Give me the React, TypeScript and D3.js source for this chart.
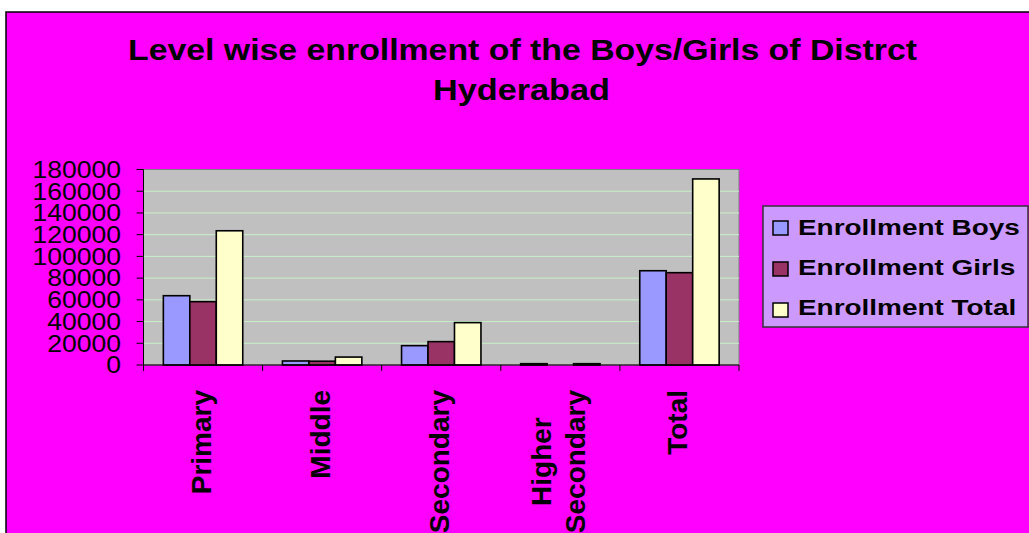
import React from "react";
import * as d3 from "d3";

const categories = ["Primary", "Middle", "Secondary", "Higher Secondary", "Total"];
const seriesNames = ["Enrollment Boys", "Enrollment Girls", "Enrollment Total"];
const boys = [63800, 3700, 17800, 1200, 86800];
const girls = [58300, 3500, 21500, 0, 85000];
const totals = [123600, 7300, 39000, 1200, 171300];
const yTicks = [0, 20000, 40000, 60000, 80000, 100000, 120000, 140000, 160000, 180000];

const W = 1029;
const H = 533;
const colors = ["#9999FF", "#993366", "#FFFFCC"];
const font = "Arial, 'Liberation Sans', sans-serif";

let ctx: CanvasRenderingContext2D | null = null;
const measure = (txt: string, size: number) => {
  if (!ctx) ctx = document.createElement("canvas").getContext("2d");
  if (!ctx) return txt.length * size * 0.6;
  ctx.font = `bold ${size}px ${font}`;
  return ctx.measureText(txt).width;
};

const App = () => {
  const margin = { top: 169.5, right: 290, bottom: 168, left: 143.5 };
  const plotW = W - margin.left - margin.right;
  const series = [boys, girls, totals];

  const x = d3.scaleBand<string>().domain(categories).range([margin.left, margin.left + plotW]).padding(0);
  const inner = d3
    .scaleBand<number>()
    .domain([0, 1, 2])
    .range([0, x.bandwidth()])
    .paddingInner(0)
    .paddingOuter(0.75);
  const y = d3.scaleLinear().domain([0, 180000]).range([H - margin.bottom, margin.top]);

  const y0 = y(0);
  const labelTop = 390;
  const catSize = 28;

  return (
    <svg
      width={W}
      height={H}
      style={{ position: "absolute", left: 0, top: 0, background: "#fff" }}
    >
      <rect x={6} y={12} width={W + 10} height={H + 10} fill="#FF00FF" stroke="#000" strokeWidth={1.5} />

      {/* title */}
      <g fontFamily={font} fontWeight="bold" fontSize={29} fill="#000">
        <text x={128} y={60} textLength={789} lengthAdjust="spacingAndGlyphs">
          Level wise enrollment of the Boys/Girls of Distrct
        </text>
        <text x={433} y={100} textLength={177} lengthAdjust="spacingAndGlyphs">
          Hyderabad
        </text>
      </g>

      {/* plot area */}
      <rect x={margin.left} y={margin.top} width={plotW} height={y0 - margin.top} fill="#C0C0C0" stroke="#808080" strokeWidth={1} />
      {yTicks.slice(1, -1).map((t) => (
        <line key={t} x1={margin.left} x2={margin.left + plotW} y1={y(t)} y2={y(t)} stroke="#C8F0C8" strokeWidth={1} />
      ))}

      {/* bars */}
      {categories.map((c, ci) =>
        series.map((s, si) =>
          s[ci] > 0 ? (
            <rect
              key={c + si}
              x={(x(c) as number) + (inner(si) as number)}
              y={y(s[ci])}
              width={inner.bandwidth()}
              height={y0 - y(s[ci])}
              fill={colors[si]}
              stroke="#000"
              strokeWidth={1.6}
            />
          ) : null
        )
      )}

      {/* axes */}
      <line x1={margin.left} x2={margin.left} y1={margin.top} y2={y0 + 6} stroke="#000" strokeWidth={1} />
      <line x1={margin.left} x2={margin.left + plotW} y1={y0} y2={y0} stroke="#000" strokeWidth={1} />
      {categories.map((c, i) => (
        <line key={c} x1={(x(c) as number) + x.bandwidth()} x2={(x(c) as number) + x.bandwidth()} y1={y0} y2={y0 + 6} stroke="#000" strokeWidth={1} />
      ))}
      {yTicks.map((t) => (
        <g key={t}>
          <line x1={margin.left - 7} x2={margin.left} y1={y(t)} y2={y(t)} stroke="#000" strokeWidth={1} />
          <text
            transform={`translate(121,${y(t) + 8.3}) scale(1.13,1)`}
            textAnchor="end"
            fontFamily={font}
            fontSize={23.5}
            fill="#000"
          >
            {t}
          </text>
        </g>
      ))}

      {/* category labels */}
      {categories.map((c) => {
        const cx = (x(c) as number) + x.bandwidth() / 2;
        const full = measure(c, catSize);
        const lines = full > 160 ? c.split(" ") : [c];
        const maxLen = d3.max(lines, (l) => measure(l, catSize)) as number;
        const mid = labelTop + maxLen / 2;
        const lh = 34;
        return (
          <g key={c} fontFamily={font} fontWeight="bold" fontSize={catSize} fill="#000">
            {lines.map((l, li) => {
              const bx = cx + 8 + (li - (lines.length - 1) / 2) * lh;
              return (
                <text key={l} transform={`translate(${bx},${mid}) rotate(-90)`} textAnchor="middle">
                  {l}
                </text>
              );
            })}
          </g>
        );
      })}

      {/* legend */}
      <rect x={763} y={206} width={265} height={121} fill="#CC99FF" stroke="#333" strokeWidth={1.5} />
      {seriesNames.map((n, i) => (
        <g key={n}>
          <rect x={773} y={221 + i * 41} width={15} height={14} fill={colors[i]} stroke="#000" strokeWidth={1.5} />
          <text
            transform={`translate(798,${235 + i * 40}) scale(1.27,1)`}
            fontFamily={font}
            fontWeight="bold"
            fontSize={22}
            fill="#000"
          >
            {n}
          </text>
        </g>
      ))}
    </svg>
  );
};

export default App;
